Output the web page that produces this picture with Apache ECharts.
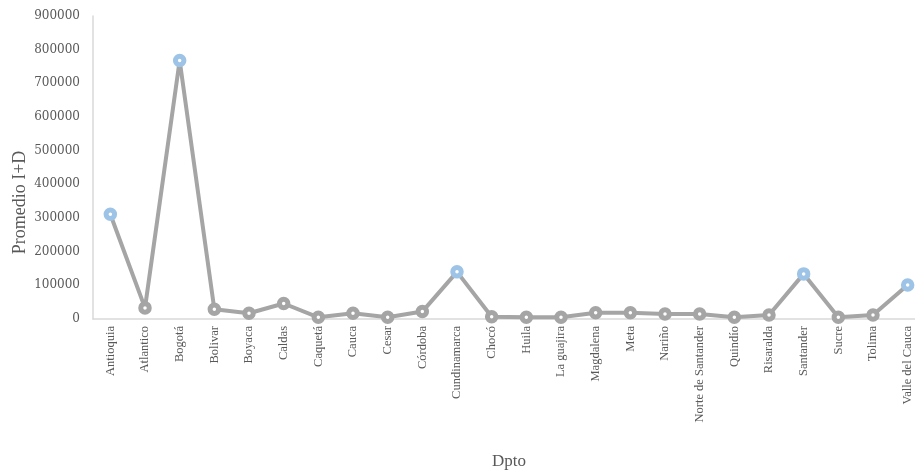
<!DOCTYPE html>
<html>
<head>
<meta charset="utf-8">
<script src="https://cdn.jsdelivr.net/npm/echarts@6/dist/echarts.min.js"></script>
<style>
  html, body { margin: 0; padding: 0; background: #fff; }
  #chart { width: 915px; height: 471px; }
</style>
</head>
<body>
<div id="chart"></div>
<script>
const dptos = ["Antioquia", "Atlantico", "Bogotá", "Bolivar", "Boyaca", "Caldas", "Caquetá", "Cauca",
  "Cesar", "Córdoba", "Cundinamarca", "Chocó", "Huila", "La guajira", "Magdalena", "Meta", "Nariño",
  "Norte de Santander", "Quindío", "Risaralda", "Santander", "Sucre", "Tolima", "Valle del Cauca"];
const promedio = [311000, 33000, 768000, 29000, 17000, 46000, 5000, 17000, 5000, 22000, 140000, 6500,
  5000, 5000, 18500, 18500, 15000, 15000, 5000, 12000, 134000, 5000, 12000, 101000];
const yTicks = [0, 100000, 200000, 300000, 400000, 500000, 600000, 700000, 800000, 900000];

const gray = "#a5a5a5";
const blue = "#9dc3e6";
const tickFont = "DejaVu Serif";
const textFont = "Liberation Serif";

// puntos altos en azul
const points = promedio.map(function (v) {
  return {
    value: v,
    itemStyle: { borderColor: v > 100000 ? blue : gray }
  };
});

const chart = echarts.init(document.getElementById("chart"));
chart.setOption({
  animation: false,
  grid: { left: 93, width: 832, top: 16, bottom: 152, containLabel: false, outerBoundsMode: "none" },
  xAxis: {
    type: "category",
    data: dptos,
    name: "Dpto",
    nameLocation: "middle",
    nameGap: 134,
    nameMoveOverlap: false,
    nameTextStyle: { fontFamily: textFont, fontSize: 17, color: "#595959" },
    axisLine: { lineStyle: { color: "#d9d9d9", width: 1.5 } },
    axisTick: { show: false },
    axisLabel: {
      rotate: 90,
      interval: 0,
      margin: 7,
      fontFamily: textFont,
      fontSize: 12.5,
      color: "#595959"
    }
  },
  yAxis: {
    type: "value",
    min: yTicks[0],
    max: yTicks[yTicks.length - 1],
    interval: 100000,
    name: "Promedio I+D",
    nameLocation: "middle",
    nameGap: 64,
    nameMoveOverlap: false,
    nameTextStyle: { fontFamily: textFont, fontSize: 18, color: "#595959", padding: [0, 70, 0, 0] },
    axisLine: { show: true, lineStyle: { color: "#d9d9d9", width: 1.5 } },
    axisTick: { show: false },
    splitLine: { show: false },
    axisLabel: {
      fontFamily: tickFont,
      fontSize: 12,
      color: "#595959",
      margin: 13,
      formatter: function (v) { return String(v); }
    }
  },
  series: [{
    type: "line",
    data: points,
    symbol: "circle",
    symbolSize: 8.5,
    lineStyle: { color: gray, width: 4 },
    itemStyle: { color: "#fff", borderWidth: 5 }
  }]
});
</script>
</body>
</html>
